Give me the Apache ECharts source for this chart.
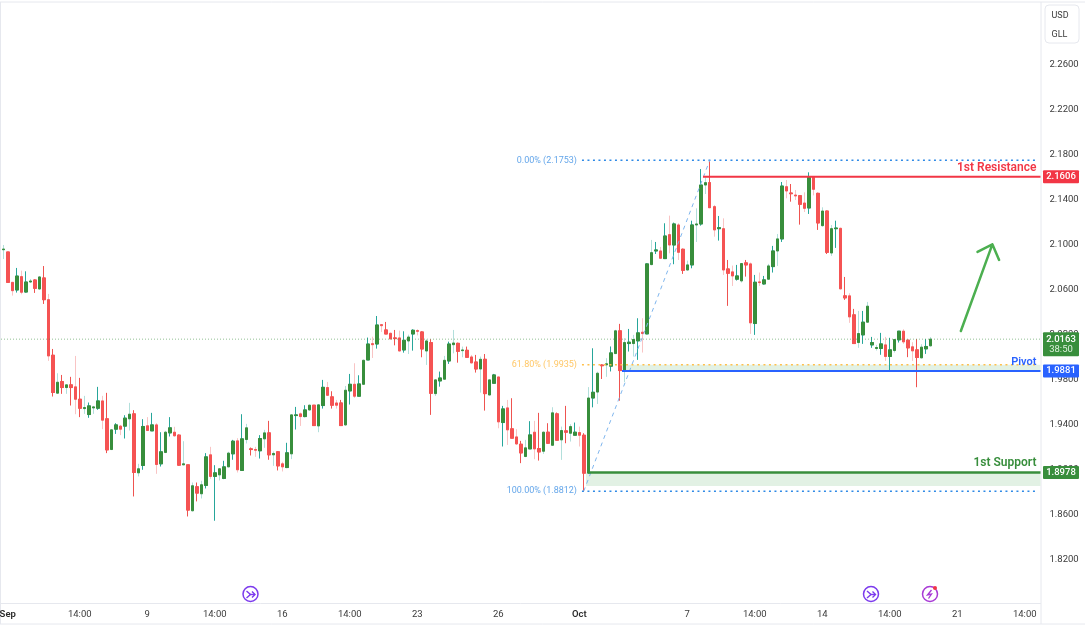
<!DOCTYPE html>
<html>
<head>
<meta charset="utf-8">
<style>html,body{margin:0;padding:0;background:#fff}#c{width:1085px;height:630px}</style>
<script src="https://cdn.jsdelivr.net/npm/echarts@6/dist/echarts.min.js"></script>
</head>
<body>
<div id="c"></div>
<script>
// each row: open, close, low, high
const ohlc = [
[2.0958,2.0964,2.0875,2.1000],[2.0938,2.0668,2.0668,2.0938],[2.0668,2.0594,2.0550,2.0668],[2.0600,2.0724,2.0577,2.0796],
[2.0719,2.0580,2.0562,2.0772],[2.0582,2.0671,2.0577,2.0766],[2.0671,2.0680,2.0665,2.0698],[2.0689,2.0615,2.0574,2.0695],
[2.0609,2.0716,2.0606,2.0722],[2.0707,2.0514,2.0476,2.0813],[2.0514,2.0014,1.9970,2.0565],[2.0020,1.9689,1.9653,2.0076],
[1.9683,1.9780,1.9677,1.9860],[1.9786,1.9733,1.9677,1.9845],[1.9733,1.9757,1.9677,1.9757],[1.9757,1.9733,1.9573,1.9828],
[1.9739,1.9629,1.9496,2.0014],[1.9629,1.9549,1.9470,1.9819],[1.9546,1.9555,1.9499,1.9659],[1.9493,1.9570,1.9464,1.9600],
[1.9552,1.9561,1.9499,1.9570],[1.9549,1.9614,1.9535,1.9739],[1.9614,1.9443,1.9363,1.9659],[1.9455,1.9179,1.9150,1.9686],
[1.9182,1.9357,1.9179,1.9363],[1.9363,1.9401,1.9321,1.9416],[1.9390,1.9363,1.9310,1.9401],[1.9390,1.9461,1.9280,1.9487],
[1.9455,1.9496,1.9351,1.9597],[1.9499,1.8978,1.8765,1.9532],[1.8975,1.9011,1.8943,1.9055],[1.9040,1.9387,1.9002,1.9452],
[1.9393,1.9351,1.9351,1.9470],[1.9348,1.9401,1.9348,1.9508],[1.9401,1.9049,1.8966,1.9416],[1.9055,1.9162,1.9031,1.9336],
[1.9156,1.9336,1.9150,1.9348],[1.9330,1.9375,1.9298,1.9470],[1.9336,1.9304,1.9298,1.9384],[1.9310,1.9043,1.9037,1.9316],
[1.9046,1.9055,1.9046,1.9256],[1.9046,1.8644,1.8587,1.9046],[1.8638,1.8860,1.8632,1.8889],[1.8851,1.8795,1.8721,1.8889],
[1.8789,1.8869,1.8747,1.8904],[1.8863,1.9117,1.8836,1.9150],[1.9135,1.8943,1.8922,1.9206],[1.8943,1.8975,1.8549,1.9043],
[1.8957,1.9011,1.8907,1.9017],[1.8925,1.9028,1.8919,1.9082],[1.9028,1.9150,1.9028,1.9162],[1.9144,1.9256,1.9091,1.9268],
[1.9259,1.9002,1.8978,1.9283],[1.8996,1.9277,1.8996,1.9496],[1.9271,1.9375,1.9236,1.9410],[1.9188,1.9182,1.9129,1.9200],
[1.9182,1.9176,1.9117,1.9206],[1.9171,1.9280,1.9102,1.9310],[1.9277,1.9330,1.9197,1.9357],[1.9330,1.9135,1.9091,1.9437],
[1.9135,1.9147,1.9037,1.9165],[1.9162,1.9037,1.8996,1.9168],[1.9055,1.9028,1.8987,1.9073],[1.9022,1.9153,1.9017,1.9242],
[1.9144,1.9490,1.9097,1.9496],[1.9484,1.9490,1.9360,1.9561],[1.9499,1.9475,1.9392,1.9511],[1.9475,1.9534,1.9469,1.9576],
[1.9534,1.9576,1.9530,1.9580],[1.9576,1.9395,1.9392,1.9576],[1.9392,1.9579,1.9336,1.9587],[1.9573,1.9735,1.9546,1.9801],
[1.9733,1.9664,1.9658,1.9783],[1.9650,1.9576,1.9546,1.9700],[1.9596,1.9576,1.9546,1.9623],[1.9596,1.9395,1.9392,1.9623],
[1.9401,1.9709,1.9392,1.9747],[1.9703,1.9762,1.9582,1.9854],[1.9762,1.9656,1.9641,1.9949],[1.9656,1.9765,1.9656,1.9842],
[1.9762,1.9975,1.9762,1.9981],[1.9978,2.0120,1.9978,2.0177],[2.0123,2.0114,1.9996,2.0185],[2.0120,2.0289,2.0079,2.0369],
[2.0292,2.0283,2.0227,2.0298],[2.0245,2.0209,2.0209,2.0316],[2.0215,2.0165,2.0162,2.0221],[2.0174,2.0168,2.0108,2.0245],
[2.0174,2.0058,2.0058,2.0239],[2.0067,2.0153,2.0043,2.0233],[2.0147,2.0182,2.0031,2.0203],[2.0209,2.0242,2.0061,2.0251],
[2.0239,2.0233,2.0197,2.0251],[2.0227,2.0076,2.0002,2.0233],[2.0058,2.0147,1.9934,2.0162],[2.0132,1.9682,1.9490,2.0162],
[1.9679,1.9801,1.9658,1.9807],[1.9792,1.9818,1.9741,1.9875],[1.9807,1.9975,1.9807,2.0014],[1.9969,2.0120,1.9943,2.0141],
[2.0114,2.0129,2.0037,2.0245],[2.0126,2.0055,1.9954,2.0132],[2.0061,2.0067,2.0002,2.0097],[2.0064,2.0002,1.9996,2.0097],
[2.0005,1.9952,1.9949,2.0023],[1.9960,1.9898,1.9866,2.0023],[1.9898,1.9984,1.9688,2.0008],[1.9984,1.9679,1.9528,2.0031],
[1.9667,1.9801,1.9667,1.9801],[1.9771,1.9845,1.9771,1.9854],[1.9827,1.9428,1.9371,1.9827],[1.9422,1.9543,1.9209,1.9570],
[1.9552,1.9357,1.9223,1.9623],[1.9366,1.9283,1.9283,1.9638],[1.9294,1.9232,1.9223,1.9363],[1.9229,1.9152,1.9061,1.9259],
[1.9120,1.9197,1.9114,1.9268],[1.9188,1.9312,1.9188,1.9434],[1.9336,1.9188,1.9096,1.9437],[1.9191,1.9161,1.9084,1.9508],
[1.9167,1.9336,1.9143,1.9342],[1.9336,1.9238,1.9232,1.9416],[1.9220,1.9508,1.9217,1.9558],[1.9499,1.9265,1.9262,1.9511],
[1.9268,1.9351,1.9090,1.9386],[1.9348,1.9336,1.9238,1.9570],[1.9327,1.9386,1.9253,1.9407],[1.9309,1.9336,1.9309,1.9422],
[1.9333,1.9309,1.9209,1.9386],[1.9309,1.8972,1.8812,1.9327],[1.8972,1.9640,1.8972,1.9737],[1.9640,1.9691,1.9557,2.0082],
[1.9693,1.9860,1.9587,1.9874],[1.9933,1.9927,1.9809,1.9940],[1.9935,1.9944,1.9828,1.9994],[1.9923,2.0041,1.9876,2.0098],
[2.0035,2.0237,2.0032,2.0246],[2.0237,1.9884,1.9616,2.0299],[1.9884,2.0133,1.9781,2.0172],[2.0124,2.0136,2.0053,2.0254],
[2.0124,2.0160,2.0009,2.0201],[2.0148,2.0219,1.9979,2.0349],[2.0225,2.0213,2.0044,2.0349],[2.0210,2.0832,2.0207,2.0838],
[2.0826,2.0932,2.0820,2.1045],[2.0947,2.0956,2.0920,2.1027],[2.0947,2.0882,2.0876,2.0983],[2.0879,2.1080,2.0876,2.1193],
[2.1092,2.1000,2.0926,2.1261],[2.1000,2.1187,2.0829,2.1199],[2.1178,2.0935,2.0867,2.1193],[2.0962,2.0775,2.0743,2.0968],
[2.0778,2.0823,2.0775,2.0861],[2.0823,2.1178,2.0793,2.1216],[2.1178,2.1187,2.1027,2.1326],[2.1187,2.1533,2.1172,2.1675],
[2.1533,2.1554,2.1453,2.1601],[2.1554,2.1332,2.1332,2.1753],[2.1341,2.1134,2.1074,2.1356],[2.1145,2.1154,2.1039,2.1258],
[2.1145,2.0778,2.0734,2.1237],[2.0787,2.0749,2.0459,2.0867],[2.0761,2.0725,2.0636,2.0817],[2.0696,2.0725,2.0684,2.0823],
[2.0681,2.0835,2.0666,2.0838],[2.0841,2.0823,2.0719,2.0867],[2.0832,2.0308,2.0210,2.0844],[2.0302,2.0669,2.0201,2.0734],
[2.0672,2.0666,2.0636,2.0755],[2.0654,2.0690,2.0648,2.0725],[2.0696,2.0814,2.0690,2.0832],[2.0808,2.0947,2.0755,2.0992],
[2.0947,2.1054,2.0814,2.1098],[2.1054,2.1524,2.1027,2.1560],[2.1518,2.1480,2.1415,2.1578],[2.1462,2.1456,2.1385,2.1542],
[2.1444,2.1436,2.1400,2.1489],[2.1438,2.1362,2.1181,2.1444],[2.1373,2.1326,2.1293,2.1468],[2.1329,2.1601,2.1276,2.1646],
[2.1601,2.1495,2.1441,2.1607],[2.1459,2.1196,2.1134,2.1465],[2.1172,2.1302,2.1163,2.1335],[2.1302,2.0935,2.0920,2.1305],
[2.0929,2.1145,2.0903,2.1178],[2.1145,2.1151,2.0974,2.1216],[2.1148,2.0610,2.0607,2.1154],[2.0548,2.0530,2.0512,2.0716],
[2.0548,2.0361,2.0308,2.0571],[2.0379,2.0124,2.0121,2.0432],[2.0133,2.0213,2.0086,2.0414],[2.0201,2.0314,2.0121,2.0414],
[2.0314,2.0456,2.0311,2.0494],[2.0112,2.0133,2.0086,2.0183],[2.0080,2.0089,2.0062,2.0112],[2.0080,2.0121,2.0024,2.0219],
[2.0112,2.0009,1.9970,2.0183],[2.0009,2.0068,1.9871,2.0175],[2.0062,2.0160,2.0044,2.0166],[2.0157,2.0234,2.0133,2.0234],
[2.0234,2.0139,2.0121,2.0251],[2.0154,2.0086,2.0003,2.0157],[2.0095,2.0059,1.9970,2.0136],[2.0068,2.0000,1.9736,2.0163],
[1.9997,2.0092,1.9994,2.0118],[2.0077,2.0098,2.0032,2.0163],[2.0104,2.0163,2.0098,2.0181]
];
const barSlots = 231;
const timeTicks = [[1,'Sep'],[17,'14:00'],[32,'9'],[47,'14:00'],[62,'16'],[77,'14:00'],[92,'23'],[110,'26'],[128,'Oct'],[152,'7'],[167,'14:00'],[182,'14'],[197,'14:00'],[212,'21'],[227,'14:00']];
const monthTicks = ['Sep','Oct'];
const priceTicks = [1.82,1.86,1.90,1.94,1.98,2.02,2.06,2.10,2.14,2.18,2.22,2.26];

const resistance = 2.1606, pivot = 1.9881, support = 1.8978, lastPrice = 2.0163;
const fib0 = 2.1753, fib618 = 1.9935, fib100 = 1.8812;
const arrowPath = [[212.8,2.0236],[219.8,2.1006],[216.5,2.0938],[219.8,2.1006],[221.3,2.0867]];
const fibDiagonal = [[129,fib100],[157,fib0]];

const GREEN='#388e3c', RED='#f55353', TEAL='#26a69a', WICKRED='#ef5350', PTEAL='#b2dfdb', PRED='#f9c4c4';
const FONT='Roboto';

const tickMap = {}; timeTicks.forEach(t => tickMap[t[0]] = t[1]);
const categories = Array.from({length: barSlots}, (_, i) => tickMap[i] || '');

const wickData = ohlc.map((d, i) => {
  const up = d[1] > d[0], pale = i % 2 === 0;
  const col = up ? (pale ? PTEAL : TEAL) : (pale ? PRED : WICKRED);
  return {value: d, itemStyle: {color:'transparent', color0:'transparent', borderColor: col, borderColor0: col, borderWidth: 1}};
});
const bodyData = ohlc.map(d => [d[0], d[1], Math.min(d[0], d[1]), Math.max(d[0], d[1])]);

function level(name, a, b, price, color, width, type) {
  return {name, type:'line', xAxisIndex:1, yAxisIndex:0, data:[[a,price],[b,price]], symbol:'none', silent:true,
    lineStyle:{color, width, type: type || 'solid', cap:'butt'}, z:4, animation:false};
}
function band(name, a, b, hi, lo, color) {
  return {name, type:'line', xAxisIndex:1, yAxisIndex:0, data:[], symbol:'none', silent:true, z:1,
    markArea:{silent:true, itemStyle:{color, opacity:1}, data:[[{coord:[a,hi]},{coord:[b,lo]}]]}};
}

// text annotations: x slot, price, text, colour, size, weight, align
const notes = [
  [127.5, fib0,   '0.00% (2.1753)',    '#64a6ea', 9, 400, 'right'],
  [127.5, fib618, '61.80% (1.9935)',   '#ffc766', 9, 400, 'right'],
  [127.5, fib100, '100.00% (1.8812)',  '#64a6ea', 9, 400, 'right'],
  [229.6, 2.1685, '1st Resistance',    '#f23645', 12, 600, 'right'],
  [229.6, 1.9958, 'Pivot',             '#2962ff', 11, 600, 'right'],
  [229.6, 1.9058, '1st Support',       '#388e3c', 12, 600, 'right']
];
// right-axis tags
const tags = [
  [resistance, '2.1606', '#f23645', ''],
  [pivot, '1.9881', '#2962ff', ''],
  [support, '1.8978', '#388e3c', ''],
  [lastPrice, '2.0163', '#388e3c', '38:50']
];

const noteSeries = {type:'custom', xAxisIndex:1, yAxisIndex:0, z:6, silent:true, clip:false, data:notes.map((n,i)=>[n[0],n[1],i]),
  renderItem(params, api){
    const n = notes[api.value(2)], p = api.coord([n[0], n[1]]);
    return {type:'text', x:p[0], y:p[1], style:{text:n[2], fill:n[3], font:`${n[5]} ${n[4]}px ${FONT}`, align:n[6], verticalAlign:'middle'}};
  }};
const tagSeries = {type:'custom', xAxisIndex:1, yAxisIndex:0, z:7, silent:true, clip:false, data:tags.map((t,i)=>[230,t[0],i]),
  renderItem(params, api){
    const t = tags[api.value(2)], p = api.coord([230, t[0]]);
    const x = params.coordSys.x + params.coordSys.width + 2.5, two = !!t[3];
    const top = two ? p[1]-7 : p[1]-6.5, h = two ? 24 : 13;
    const kids = [{type:'rect', shape:{x, y:top, width:36, height:h, r:1}, style:{fill:t[2]}},
      {type:'text', x:x+18, y:p[1], style:{text:t[1], fill:'#fff', font:`500 9.5px ${FONT}`, align:'center', verticalAlign:'middle'}}];
    if (two) kids.push({type:'text', x:x+18, y:p[1]+10.5, style:{text:t[3], fill:'#dcefdc', font:`400 9.5px ${FONT}`, align:'center', verticalAlign:'middle'}});
    return {type:'group', children:kids};
  }};

const chart = echarts.init(document.getElementById('c'), null, {renderer:'canvas'});
function chevIcon(x, y, col){
  return {type:'group', x, y, silent:true, children:[
    {type:'circle', shape:{r:7.5}, style:{fill:'#fff', stroke:col, lineWidth:1.5}},
    {type:'polyline', shape:{points:[[-4,-3],[0,0.5],[-4,4]]}, style:{fill:null, stroke:col, lineWidth:1.4}},
    {type:'polyline', shape:{points:[[-1,0.5],[4,0.5]]}, style:{fill:null, stroke:col, lineWidth:1.4}},
    {type:'polyline', shape:{points:[[1.5,-2.5],[4.5,0.5],[1.5,3.5]]}, style:{fill:null, stroke:col, lineWidth:1.4}}
  ]};
}
function flashIcon(x, y, col){
  return {type:'group', x, y, silent:true, children:[
    {type:'circle', shape:{r:7.5}, style:{fill:'#fff', stroke:col, lineWidth:1.5}},
    {type:'polyline', shape:{points:[[1.5,-4],[-2.5,1],[1.5,0],[-1.5,4.5]]}, style:{fill:null, stroke:col, lineWidth:1.3}},
    {type:'circle', shape:{cx:5,cy:-6,r:2}, style:{fill:'#f23645'}}
  ]};
}
const rule = '#e6e8ee';
function hline(y){return {type:'line', silent:true, shape:{x1:0,y1:y,x2:1085,y2:y}, style:{stroke:rule,lineWidth:1}};}
function vline(x){return {type:'line', silent:true, shape:{x1:x,y1:2,x2:x,y2:624}, style:{stroke:rule,lineWidth:1}};}

chart.setOption({
  animation:false,
  backgroundColor:'#ffffff',
  textStyle:{fontFamily:FONT},
  grid:{left:1, right:44.5, top:4, bottom:27, containLabel:false, outerBoundsMode:'none'},
  xAxis:[
    {type:'category', data:categories, boundaryGap:true, position:'bottom',
     axisLine:{show:true, lineStyle:{color:rule}}, axisTick:{show:false}, splitLine:{show:false},
     axisLabel:{show:true, hideOverlap:false, interval:(i)=>!!tickMap[i], margin:7, color:'#3b3b3b', fontSize:9.5, fontFamily:FONT,
       formatter:(v)=> monthTicks.includes(v) ? '{m|'+v+'}' : v,
       rich:{m:{fontWeight:600, fontSize:9.5, color:'#2a2a2a', fontFamily:FONT}}}},
    {type:'value', min:-0.5, max:230.5, show:false, position:'bottom'}
  ],
  yAxis:{type:'value', position:'right', min:1.7818, max:2.3142, scale:true,
    axisLine:{show:false}, axisTick:{show:false}, splitLine:{show:false},
    axisLabel:{show:true, customValues:priceTicks, margin:9, padding:[2,0,0,0], color:'#3b3b3b', fontSize:9.5, fontFamily:FONT, formatter:(v)=>v.toFixed(4)}},
  graphic:[
    hline(2), hline(624), vline(1041), vline(0.5),
    {type:'rect', silent:true, shape:{x:1045,y:5,width:34,height:38,r:4}, style:{fill:'#fff',stroke:rule,lineWidth:1}},
    {type:'text', silent:true, x:1051.5, y:15.5, style:{text:'USD', fill:'#3b3b3b', font:`9px ${FONT}`, verticalAlign:'middle'}},
    {type:'text', silent:true, x:1051.5, y:35, style:{text:'GLL', fill:'#3b3b3b', font:`9px ${FONT}`, verticalAlign:'middle'}},
    chevIcon(250.5,594,'#7c3aed'), chevIcon(871,594,'#7c3aed'), flashIcon(930,594,'#a83ad6')
  ],
  series:[
    band('pivot zone', 137.5, 230.5, fib618, pivot, '#e2f1e4'),
    band('support zone', 129.5, 230.5, support, 1.8858, '#e2f1e4'),
    level('last', -0.5, 230.5, lastPrice, 'rgba(56,142,60,0.55)', 1, [1,2]),
    {name:'wicks', type:'candlestick', xAxisIndex:0, yAxisIndex:0, barWidth:3, data:wickData, z:2, silent:true},
    {name:'bodies', type:'candlestick', xAxisIndex:0, yAxisIndex:0, barWidth:3, data:bodyData, z:3, silent:true,
      itemStyle:{color:GREEN, color0:RED, borderColor:GREEN, borderColor0:RED, borderWidth:1}},
    level('fib0', 128.6, 230, fib0, '#2f8ae6', 1.5, [2,3.5]),
    level('fib618', 128.6, 230, fib618, '#ffc04d', 1.5, [2,3.5]),
    level('fib100', 128.6, 230, fib100, '#2f8ae6', 1.5, [2,3.5]),
    {name:'fib diagonal', type:'line', xAxisIndex:1, yAxisIndex:0, data:fibDiagonal, symbol:'none', silent:true, z:4,
      lineStyle:{color:'#7fb6ee', width:1, type:[4,4]}},
    level('resistance', 155.5, 230.5, resistance, '#f23645', 2),
    level('pivot', 137.5, 230.5, pivot, '#2962ff', 2),
    level('support', 130, 230.5, support, '#388e3c', 2.5),
    {name:'arrow', type:'line', xAxisIndex:1, yAxisIndex:0, data:arrowPath, symbol:'none', silent:true, z:5,
      lineStyle:{color:'#4caf50', width:2.5, cap:'round', join:'round'}},
    noteSeries, tagSeries
  ]
});
</script>
</body>
</html>
